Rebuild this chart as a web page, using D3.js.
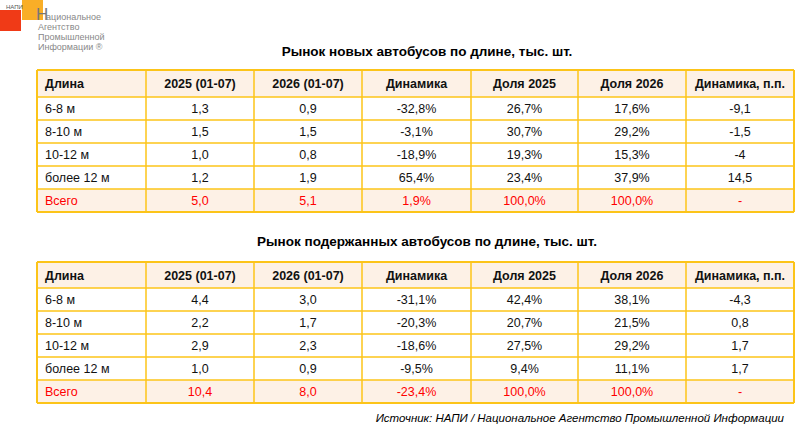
<!DOCTYPE html>
<html><head><meta charset="utf-8">
<script src="https://cdn.jsdelivr.net/npm/d3@7"></script>
<style>body{margin:0;background:#fff}svg{font-family:"Liberation Sans",Arial,sans-serif}</style>
</head><body>
<svg id="c" width="809" height="430"></svg>
<script>
const headers = ["Длина", "2025 (01-07)", "2026 (01-07)", "Динамика", "Доля 2025", "Доля 2026", "Динамика, п.п."]
const categories = ["6-8 м", "8-10 м", "10-12 м", "более 12 м", "Всего"]

// новые
const newV2025 = ["1,3", "1,5", "1,0", "1,2", "5,0"]
const newV2026 = ["0,9", "1,5", "0,8", "1,9", "5,1"]
const newDyn = ["-32,8%", "-3,1%", "-18,9%", "65,4%", "1,9%"]
const newShare25 = ["26,7%", "30,7%", "19,3%", "23,4%", "100,0%"]
const newShare26 = ["17,6%", "29,2%", "15,3%", "37,9%", "100,0%"]
const newPp = ["-9,1", "-1,5", "-4", "14,5", "-"]

// подержанные
const usedV2025 = ["4,4", "2,2", "2,9", "1,0", "10,4"]
const usedV2026 = ["3,0", "1,7", "2,3", "0,9", "8,0"]
const usedDyn = ["-31,1%", "-20,3%", "-18,6%", "-9,5%", "-23,4%"]
const usedShare25 = ["42,4%", "20,7%", "27,5%", "9,4%", "100,0%"]
const usedShare26 = ["38,1%", "21,5%", "29,2%", "11,1%", "100,0%"]
const usedPp = ["-4,3", "0,8", "1,7", "1,7", "-"]

const svg = d3.select("#c")

// logo
svg.append("rect").attr("x", 0).attr("y", 10).attr("width", 21).attr("height", 21).attr("fill", "#f03a17")
svg.append("rect").attr("x", 22).attr("y", 0).attr("width", 21).attr("height", 20).attr("fill", "#f9ae27")
svg.append("text").attr("x", 6).attr("y", 9).attr("font-size", 6).attr("fill", "#555").text("НАПИ")
svg.append("text").attr("x", 36).attr("y", 20).attr("font-size", 17).attr("fill", "#777").text("Н")
const logoTxt = ["ациональное", "Агентство", "Промышленной", "Информации ®"]
logoTxt.forEach((t, i) => svg.append("text").attr("x", i == 0 ? 46 : 38).attr("y", 20 + i * 10)
  .attr("font-size", 9).attr("fill", "#888").attr("font-family", "'Liberation Sans Narrow',sans-serif").text(t))

const colEdges = [37, 146, 254, 362, 471, 578, 686, 794]
function drawTable(title, titleY, top, headH, rowH, cols) {
  svg.append("text").attr("x", 427).attr("y", titleY).attr("text-anchor", "middle")
    .attr("font-size", 13.5).attr("font-weight", "bold").text(title)
  const y = d3.scaleBand().domain(d3.range(6)).range([top, top + headH + rowH * 5])
  const rowTop = i => i == 0 ? top : top + headH + (i - 1) * rowH
  const rowHt = i => i == 0 ? headH : rowH
  const g = svg.append("g")
  d3.range(6).forEach(i => {
    g.append("rect").attr("x", colEdges[0]).attr("y", rowTop(i)).attr("width", colEdges[7] - colEdges[0])
      .attr("height", rowHt(i)).attr("fill", (i == 0 || i == 5) ? "#fdf1e6" : "#fff")
    for (let c = 0; c < 7; c++) {
      const txt = i == 0 ? headers[c] : (c == 0 ? categories[i - 1] : cols[c - 1][i - 1])
      const xc = c == 0 ? colEdges[0] + 8 : (colEdges[c] + colEdges[c + 1]) / 2
      g.append("text").attr("x", xc).attr("y", rowTop(i) + rowHt(i) / 2 + 4.5)
        .attr("text-anchor", c == 0 ? "start" : "middle").attr("font-size", 12.5)
        .attr("font-weight", i == 0 ? "bold" : "normal")
        .attr("fill", i == 5 ? "#ff0000" : "#111").text(txt)
    }
  })
  const bottom = rowTop(5) + rowH
  d3.range(7).forEach(i => g.append("line").attr("x1", colEdges[0]).attr("x2", colEdges[7])
    .attr("y1", i == 6 ? bottom : rowTop(i)).attr("y2", i == 6 ? bottom : rowTop(i))
    .attr("stroke", "#fcc419").attr("stroke-width", (i == 0 || i == 6) ? 2 : 1.5))
  colEdges.forEach((x, i) => g.append("line").attr("x1", x).attr("x2", x).attr("y1", top).attr("y2", bottom)
    .attr("stroke", "#fcc419").attr("stroke-width", (i == 0 || i == 7) ? 2 : 1.5))
}
drawTable("Рынок новых автобусов по длине, тыс. шт.", 56, 70, 27, 23,
  [newV2025, newV2026, newDyn, newShare25, newShare26, newPp])
drawTable("Рынок подержанных автобусов по длине, тыс. шт.", 246, 262, 26, 23,
  [usedV2025, usedV2026, usedDyn, usedShare25, usedShare26, usedPp])

svg.append("text").attr("x", 784).attr("y", 422).attr("text-anchor", "end").attr("font-size", 11.5)
  .attr("font-style", "italic").text("Источник: НАПИ / Национальное Агентство Промышленной Информации")
</script>
</body></html>
